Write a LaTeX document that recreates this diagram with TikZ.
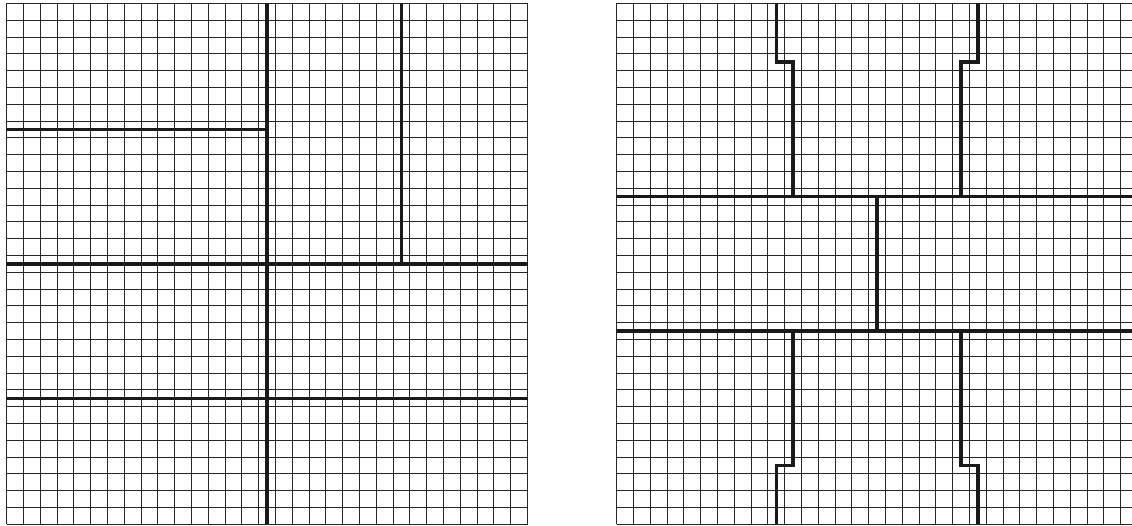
\documentclass[tikz,border=0pt]{standalone}
\begin{document}
\begin{tikzpicture}[
  gridline/.style={line width=0.9pt, draw=black!85},
  seam/.style={line width=3.6pt, draw=black!90, line cap=butt, line join=miter},
  x=1pt, y=1pt]
\useasboundingbox (0,0) rectangle (1132,525);
\clip (0,0) rectangle (1132,525);
% left panel
\begin{scope}[shift={(6.7pt,0.7pt)}, x=16.8pt, y=16.8pt]
  \foreach \i in {0,...,31} {
    \draw[gridline] (\i,0) -- (\i,31);
    \draw[gridline] (0,\i) -- (31,\i);
  }
  \draw[seam] (0,23.5) -- (15.5,23.5);
  \draw[seam] (15.5,0) -- (15.5,31);
  \draw[seam] (23.5,31) -- (23.5,15.5);
  \draw[seam] (0,15.5) -- (31,15.5);
  \draw[seam] (0,7.5) -- (31,7.5);
\end{scope}
% right panel
\begin{scope}[shift={(616.7pt,0.7pt)}, x=16.8pt, y=16.8pt]
  \foreach \i in {0,...,31} {
    \draw[gridline] (\i,0) -- (\i,31);
    \draw[gridline] (0,\i) -- (31,\i);
  }
  \draw[seam] (9.5,31) -- (9.5,27.5) -- (10.5,27.5) -- (10.5,19.5);
  \draw[seam] (21.5,31) -- (21.5,27.5) -- (20.5,27.5) -- (20.5,19.5);
  \draw[seam] (0,19.5) -- (31,19.5);
  \draw[seam] (15.5,19.5) -- (15.5,11.5);
  \draw[seam] (0,11.5) -- (31,11.5);
  \draw[seam] (10.5,11.5) -- (10.5,3.5) -- (9.5,3.5) -- (9.5,0);
  \draw[seam] (20.5,11.5) -- (20.5,3.5) -- (21.5,3.5) -- (21.5,0);
\end{scope}
\end{tikzpicture}
\end{document}
